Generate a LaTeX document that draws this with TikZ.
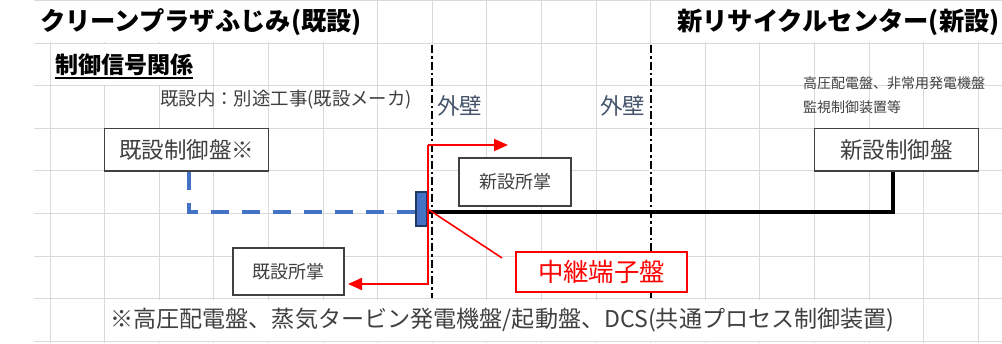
\documentclass[tikz,border=0pt]{standalone}
\usepackage{fontspec}
\setmainfont{Noto Sans CJK JP}
\usetikzlibrary{arrows.meta}
\definecolor{gridgray}{RGB}{217,217,217}
\definecolor{boxgray}{RGB}{64,64,64}
\definecolor{txtgray}{RGB}{64,64,64}
\definecolor{wallc}{RGB}{68,84,106}
\definecolor{lineblue}{RGB}{68,114,196}
\definecolor{navy}{RGB}{32,56,100}
\definecolor{pured}{RGB}{255,0,0}
\tikzset{
  gridline/.style={draw=gridgray, line width=0.9pt},
  mask/.style={fill=white, draw=none},
  box/.style={draw=boxgray, line width=1.2pt, fill=white, inner sep=0pt, text=txtgray},
  redbox/.style={draw=pured, line width=2.2pt, fill=white, inner sep=0pt, text=pured},
  relaybox/.style={draw=navy, line width=1.5pt, fill=lineblue, inner sep=0pt},
  label/.style={anchor=west, inner sep=0pt, text=txtgray},
  wall/.style={draw=black, line width=2.2pt, dash pattern=on 8pt off 3pt on 2.5pt off 3pt},
  bluedash/.style={draw=lineblue, line width=3.6pt, dash pattern=on 18pt off 13pt},
  blackline/.style={draw=black, line width=4.5pt},
  redline/.style={draw=pured, line width=2pt},
  redtip/.style={-{Triangle[length=14pt,width=12pt]}}
}
\begin{document}
\begin{tikzpicture}[x=1pt,y=-1pt]
\useasboundingbox (0,0) rectangle (1002,343);
\fill[white] (0,0) rectangle (1002,343);
% spreadsheet grid
\foreach \k in {0,...,17} {\draw[gridline] ({50+54.6*\k},0.5) -- ({50+54.6*\k},343);}
\foreach \j in {0,...,8} {\draw[gridline] (34,{0.5+42.6*\j}) -- (1002,{0.5+42.6*\j});}
% cells whose text overflows hide the grid
\fill[mask] (44,1.3) rectangle (372,42.3);
\fill[mask] (697,1.3) rectangle (992,42.3);
\fill[mask] (60,43.9) rectangle (200,84.9);
\fill[mask] (150,299.5) rectangle (905,340.5);
% walls
\coordinate (w1t) at (432.2,45);
\coordinate (w1b) at (432.2,298);
\coordinate (w2t) at (650.6,45);
\coordinate (w2b) at (650.6,298);
\draw[white, line width=2.5pt] (w1t) -- (w1b);
\draw[white, line width=2.5pt] (w2t) -- (w2b);
\draw[wall] (w1t) -- (w1b);
\draw[wall] (w2t) -- (w2b);
% titles and labels
\node[anchor=west, inner sep=0pt, font={\fontsize{25.3}{30}\selectfont\bfseries}] (titleold) at (40,22) {クリーンプラザふじみ(既設)};
\node[anchor=east, inner sep=0pt, font={\fontsize{25.3}{30}\selectfont\bfseries}] (titlenew) at (1000,22) {新リサイクルセンター(新設)};
\node[anchor=west, inner sep=0pt, font={\fontsize{23}{27}\selectfont\bfseries}] (signal) at (55,65) {制御信号関係};
\draw[black, line width=1.4pt] ([yshift=-2pt]signal.south west) -- ([yshift=-2pt]signal.south east);
\node[label, font={\fontsize{18.4}{22}\selectfont}] (note1) at (160,100) {既設内：別途工事(既設メーカ)};
\node[label, text=wallc, font={\fontsize{22.5}{26}\selectfont}] (wallA) at (437,106) {外壁};
\node[label, text=wallc, font={\fontsize{22.5}{26}\selectfont}] (wallB) at (600,106) {外壁};
\node[label, align=left, font={\fontsize{14}{24}\selectfont}] (note2) at (803,95) {高圧配電盤、非常用発電機盤\\監視制御装置等};
\node[label, font={\fontsize{23.1}{27}\selectfont}] (foot) at (110,320) {※高圧配電盤、蒸気タービン発電機盤/起動盤、DCS(共通プロセス制御装置)};
% boxes
\node[box, minimum width=163.8pt, minimum height=42.6pt, font={\fontsize{22.5}{26}\selectfont}] (oldctl) at (186.5,149.6) {既設制御盤※};
\node[box, minimum width=163.8pt, minimum height=42.6pt, font={\fontsize{22.5}{26}\selectfont}] (newctl) at (896.3,149.6) {新設制御盤};
\node[box, minimum width=111pt, minimum height=47pt, font={\fontsize{18}{21}\selectfont}] (oldscope) at (288.5,271.5) {既設所掌};
\node[box, minimum width=112pt, minimum height=48pt, font={\fontsize{18}{21}\selectfont}] (newscope) at (515,182) {新設所掌};
\node[redbox, minimum width=171pt, minimum height=40pt, font={\fontsize{25.4}{30}\selectfont}] (relaylbl) at (601.5,272) {中継端子盤};
% connectors
\coordinate (b1) at (189,212);
\draw[bluedash] (oldctl.south -| b1) -- (b1) -- (b1 -| 416,0);
\coordinate (k1) at (893,212);
\draw[blackline] (k1 -| 427,0) -- (k1) -- (newctl.south -| k1);
\node[relaybox, minimum width=11pt, minimum height=34pt] (relay) at (421.5,209) {};
\coordinate (rtop) at (428,145);
\coordinate (rbot) at (428,284);
\coordinate (tipnew) at (508,145);
\coordinate (tipold) at (348,284);
\draw[redline, redtip] (rtop) -- (tipnew);
\draw[redline, redtip] (rtop) -- (rbot) -- (tipold);
\coordinate (callend) at (502,258);
\draw[redline, line width=1.6pt] (relay.east) -- (callend);
\end{tikzpicture}
\end{document}
